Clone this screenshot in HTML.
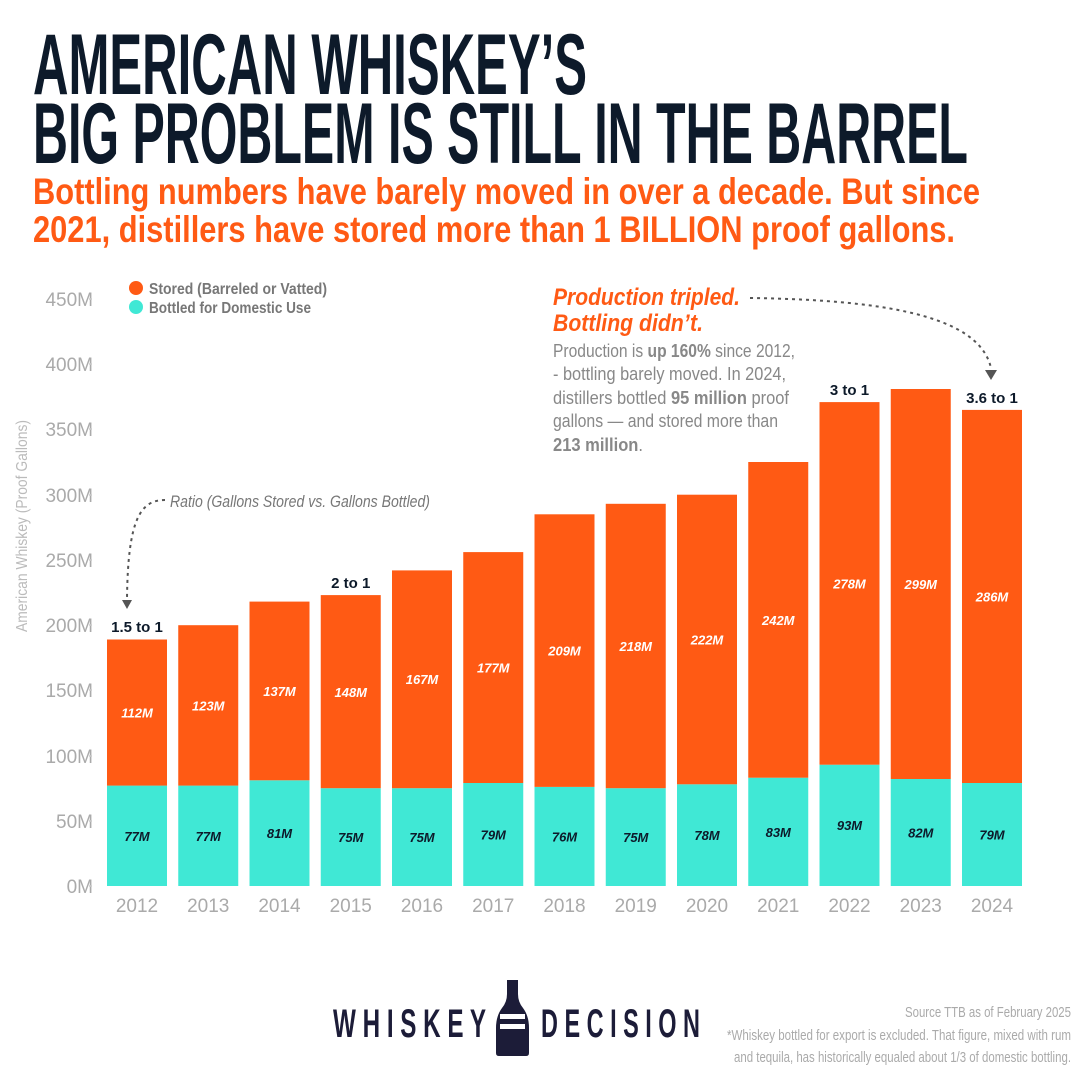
<!DOCTYPE html>
<html><head><meta charset="utf-8"><style>
html,body{margin:0;padding:0;background:#fff;}
svg{display:block;}
text{font-family:"Liberation Sans Narrow","Liberation Sans",sans-serif;}
</style></head><body>
<svg width="1080" height="1080" viewBox="0 0 1080 1080" xmlns="http://www.w3.org/2000/svg">
<rect width="1080" height="1080" fill="#fff"/>
<g fill="#0d1a2a" font-weight="bold" font-size="86">
<text x="33" y="94" textLength="554" lengthAdjust="spacingAndGlyphs">AMERICAN WHISKEY’S</text>
<text x="33" y="163" textLength="935" lengthAdjust="spacingAndGlyphs">BIG PROBLEM IS STILL IN THE BARREL</text>
</g>
<g fill="#ff5a14" font-weight="bold" font-size="37">
<text x="33" y="204" textLength="947" lengthAdjust="spacingAndGlyphs">Bottling numbers have barely moved in over a decade. But since</text>
<text x="33" y="242" textLength="922" lengthAdjust="spacingAndGlyphs">2021, distillers have stored more than 1 BILLION proof gallons.</text>
</g>
<g fill="#aaa" font-size="19" text-anchor="end" style="font-family:'Liberation Sans',sans-serif">
<text x="93" y="893">0M</text><text x="93" y="828">50M</text><text x="93" y="763">100M</text><text x="93" y="697">150M</text><text x="93" y="632">200M</text><text x="93" y="567">250M</text><text x="93" y="502">300M</text><text x="93" y="436">350M</text><text x="93" y="371">400M</text><text x="93" y="306">450M</text>
</g>
<g stroke="#ccc" stroke-width="1.5">
<line x1="89" x2="92" y1="886" y2="886"/><line x1="89" x2="92" y1="821" y2="821"/><line x1="89" x2="92" y1="756" y2="756"/><line x1="89" x2="92" y1="690" y2="690"/><line x1="89" x2="92" y1="625" y2="625"/><line x1="89" x2="92" y1="560" y2="560"/><line x1="89" x2="92" y1="495" y2="495"/><line x1="89" x2="92" y1="429" y2="429"/><line x1="89" x2="92" y1="364" y2="364"/><line x1="89" x2="92" y1="299" y2="299"/>
</g>
<text transform="translate(27,526) rotate(-90)" text-anchor="middle" fill="#bbb" font-size="16" textLength="212" lengthAdjust="spacingAndGlyphs">American Whiskey (Proof Gallons)</text>
<circle cx="136" cy="288" r="7" fill="#ff5a14"/><circle cx="136" cy="307" r="7" fill="#40e8d5"/>
<g fill="#777" font-size="16" font-weight="bold">
<text x="149" y="294" textLength="178" lengthAdjust="spacingAndGlyphs">Stored (Barreled or Vatted)</text>
<text x="149" y="313" textLength="162" lengthAdjust="spacingAndGlyphs">Bottled for Domestic Use</text></g>

<g fill="#40e8d5">
<rect x="107" y="785.6" width="60" height="100.4"/>
<rect x="178.25" y="785.6" width="60" height="100.4"/>
<rect x="249.5" y="780.3" width="60" height="105.7"/>
<rect x="320.75" y="788.2" width="60" height="97.8"/>
<rect x="392" y="788.2" width="60" height="97.8"/>
<rect x="463.25" y="783" width="60" height="103"/>
<rect x="534.5" y="786.9" width="60" height="99.1"/>
<rect x="605.75" y="788.2" width="60" height="97.8"/>
<rect x="677" y="784.3" width="60" height="101.7"/>
<rect x="748.25" y="777.7" width="60" height="108.3"/>
<rect x="819.5" y="764.7" width="60" height="121.3"/>
<rect x="890.75" y="779" width="60" height="107"/>
<rect x="962" y="783" width="60" height="103"/>
</g>
<g fill="#ff5a14">
<rect x="107" y="639.5" width="60" height="146.1"/>
<rect x="178.25" y="625.2" width="60" height="160.4"/>
<rect x="249.5" y="601.6" width="60" height="178.7"/>
<rect x="320.75" y="595.1" width="60" height="193.1"/>
<rect x="392" y="570.4" width="60" height="217.8"/>
<rect x="463.25" y="552.1" width="60" height="230.9"/>
<rect x="534.5" y="514.3" width="60" height="272.6"/>
<rect x="605.75" y="503.8" width="60" height="284.4"/>
<rect x="677" y="494.7" width="60" height="289.6"/>
<rect x="748.25" y="462" width="60" height="315.7"/>
<rect x="819.5" y="402.1" width="60" height="362.6"/>
<rect x="890.75" y="389" width="60" height="390"/>
<rect x="962" y="409.9" width="60" height="373.1"/>
</g>
<g font-size="13" font-weight="bold" font-style="italic" fill="#0d1a2a" text-anchor="middle">
<text x="137" y="841">77M</text><text x="208.25" y="841">77M</text><text x="279.5" y="838">81M</text><text x="350.75" y="842">75M</text><text x="422" y="842">75M</text><text x="493.25" y="839.5">79M</text><text x="564.5" y="841.4">76M</text><text x="635.75" y="842">75M</text><text x="707" y="840">78M</text><text x="778.25" y="837">83M</text><text x="849.5" y="830">93M</text><text x="920.75" y="837.5">82M</text><text x="992" y="839.5">79M</text>
</g>
<g font-size="13" font-weight="bold" font-style="italic" fill="#fff" text-anchor="middle">
<text x="137" y="717.6">112M</text><text x="208.25" y="710.4">123M</text><text x="279.5" y="696">137M</text><text x="350.75" y="697">148M</text><text x="422" y="684">167M</text><text x="493.25" y="672.5">177M</text><text x="564.5" y="655.6">209M</text><text x="635.75" y="651">218M</text><text x="707" y="644.5">222M</text><text x="778.25" y="625">242M</text><text x="849.5" y="588.4">278M</text><text x="920.75" y="589">299M</text><text x="992" y="601.5">286M</text>
</g>
<g font-size="15" font-weight="bold" fill="#0d1a2a" text-anchor="middle">
<text x="137" y="632">1.5 to 1</text><text x="350.75" y="588">2 to 1</text><text x="849.5" y="395">3 to 1</text><text x="992" y="403">3.6 to 1</text>
</g>
<g font-size="19" fill="#aaa" text-anchor="middle" style="font-family:'Liberation Sans',sans-serif">
<text x="137" y="912">2012</text><text x="208.25" y="912">2013</text><text x="279.5" y="912">2014</text><text x="350.75" y="912">2015</text><text x="422" y="912">2016</text><text x="493.25" y="912">2017</text><text x="564.5" y="912">2018</text><text x="635.75" y="912">2019</text><text x="707" y="912">2020</text><text x="778.25" y="912">2021</text><text x="849.5" y="912">2022</text><text x="920.75" y="912">2023</text><text x="992" y="912">2024</text>
</g>

<path d="M165 500 C140 500,128 520,127 598" fill="none" stroke="#555" stroke-width="2" stroke-dasharray="3,4"/>
<polygon points="122,600 132,600 127,609" fill="#555"/>
<text x="170" y="507" fill="#777" font-size="17" font-style="italic" textLength="260" lengthAdjust="spacingAndGlyphs">Ratio (Gallons Stored vs. Gallons Bottled)</text>
<path d="M750 298 C900 300,980 320,991 368" fill="none" stroke="#555" stroke-width="2" stroke-dasharray="3,4"/>
<polygon points="985,370 997,370 991,380" fill="#555"/>
<g fill="#ff5a14" font-size="24" font-weight="bold" font-style="italic">
<text x="553" y="305" textLength="187" lengthAdjust="spacingAndGlyphs">Production tripled.</text>
<text x="553" y="331" textLength="150" lengthAdjust="spacingAndGlyphs">Bottling didn’t.</text></g>
<g fill="#888" font-size="18">
<text x="553" y="357" textLength="242" lengthAdjust="spacingAndGlyphs">Production is <tspan font-weight="bold">up 160%</tspan> since 2012,</text>
<text x="553" y="380" textLength="233" lengthAdjust="spacingAndGlyphs">- bottling barely moved. In 2024,</text>
<text x="553" y="404" textLength="236" lengthAdjust="spacingAndGlyphs">distillers bottled <tspan font-weight="bold">95 million</tspan> proof</text>
<text x="553" y="427" textLength="225" lengthAdjust="spacingAndGlyphs">gallons — and stored more than</text>
<text x="553" y="451" textLength="90" lengthAdjust="spacingAndGlyphs"><tspan font-weight="bold">213 million</tspan>.</text>
</g>

<text x="333" y="1037" fill="#1c1c38" font-size="40" font-weight="bold" textLength="153" lengthAdjust="spacingAndGlyphs" transform="translate(0,0)">W H I S K E Y</text>
<text x="541" y="1037" fill="#1c1c38" font-size="40" font-weight="bold" textLength="159" lengthAdjust="spacingAndGlyphs">D E C I S I O N</text>
<path d="M507 980 h11 v14 q0 8 5 14 q6 8 6 20 v25 q0 3 -3 3 h-27 q-3 0 -3 -3 v-25 q0 -12 6 -20 q5 -6 5 -14z" fill="#1c1c38"/>
<rect x="500" y="1014" width="25" height="5" fill="#fff"/><rect x="500" y="1024" width="25" height="5" fill="#fff"/>
<g fill="#aaa" font-size="15" text-anchor="end">
<text x="1071" y="1017" textLength="166" lengthAdjust="spacingAndGlyphs">Source TTB as of February 2025</text>
<text x="1071" y="1040" textLength="344" lengthAdjust="spacingAndGlyphs">*Whiskey bottled for export is excluded. That figure, mixed with rum</text>
<text x="1071" y="1062" textLength="337" lengthAdjust="spacingAndGlyphs">and tequila, has historically equaled about 1/3 of domestic bottling.</text>
</g>
</svg>
</body></html>
